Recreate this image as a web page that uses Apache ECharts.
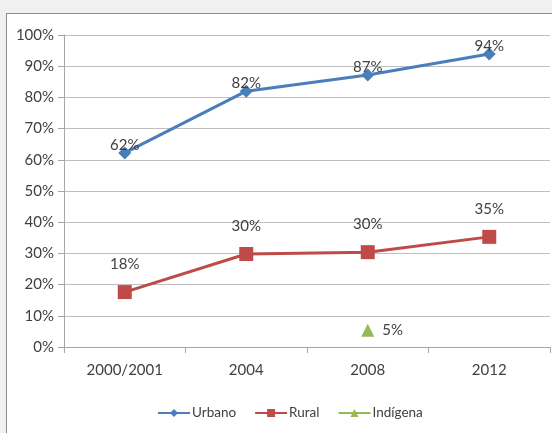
<!DOCTYPE html>
<html>
<head>
<meta charset="utf-8">
<script src="https://cdn.jsdelivr.net/npm/echarts@6/dist/echarts.min.js"></script>
<style>
  body { margin: 0; background: #f0f0f0; }
  .frame { position: absolute; left: 6px; top: 13px; width: 560px; height: 440px; background: #fff; border: 1px solid #8c8c8c; }
  #chart { position: absolute; left: 0; top: 0; width: 552px; height: 433px; }
</style>
</head>
<body>
<div class="frame"></div>
<div id="chart"></div>
<script>
// categorias y valores (%)
var years = ['2000/2001', '2004', '2008', '2012']
var urbano = [62.2, 82, 87.2, 93.9]
var rural = [17.6, 29.8, 30.4, 35.3]
var indigena = [null, null, 5.4, null]

var font = 'Lato, sans-serif'
var textColor = '#404040'

function pct (p) {
  return Math.round(p.value) + '%'
}

var chart = echarts.init(document.getElementById('chart'))
chart.setOption({
  backgroundColor: 'transparent',
  animation: false,
  textStyle: { fontFamily: font },
  grid: { left: 64, right: 2, top: 35, bottom: 86 },
  legend: {
    bottom: 8,
    left: 152,
    itemWidth: 32,
    itemHeight: 10,
    itemGap: 18,
    textStyle: { fontFamily: font, fontSize: 13.5, color: textColor, padding: [0, 0, 0, -3] },
    data: ['Urbano', 'Rural', 'Indígena']
  },
  xAxis: {
    type: 'category',
    data: years,
    boundaryGap: true,
    axisLine: { lineStyle: { color: '#a6a6a6' } },
    axisTick: { show: true, length: 6, lineStyle: { color: '#a6a6a6' } },
    axisLabel: { fontFamily: font, fontSize: 15, color: textColor, margin: 16 }
  },
  yAxis: {
    type: 'value',
    min: 0,
    max: 100,
    interval: 10,
    axisLine: { show: true, lineStyle: { color: '#a6a6a6' } },
    axisTick: { show: true, length: 6, lineStyle: { color: '#a6a6a6' } },
    splitLine: { lineStyle: { color: '#bfbfbf' } },
    axisLabel: { fontFamily: font, fontSize: 15, color: textColor, margin: 10, formatter: '{value}%' }
  },
  series: [
    {
      name: 'Urbano',
      type: 'line',
      data: urbano,
      color: '#4a7ebb',
      symbol: 'diamond',
      symbolSize: 13,
      lineStyle: { width: 3 },
      label: { show: true, position: 'top', distance: -6, fontSize: 15, color: textColor, formatter: pct }
    },
    {
      name: 'Rural',
      type: 'line',
      data: rural,
      color: '#be4b48',
      symbol: 'rect',
      symbolSize: 14,
      lineStyle: { width: 3 },
      label: { show: true, position: 'top', distance: 13, fontSize: 15, color: textColor, formatter: pct }
    },
    {
      name: 'Indígena',
      type: 'line',
      data: indigena,
      color: '#98b954',
      symbol: 'triangle',
      symbolSize: 13,
      lineStyle: { width: 3 },
      label: { show: true, position: 'right', distance: 8, fontSize: 15, color: textColor, formatter: pct }
    }
  ]
})
</script>
</body>
</html>
